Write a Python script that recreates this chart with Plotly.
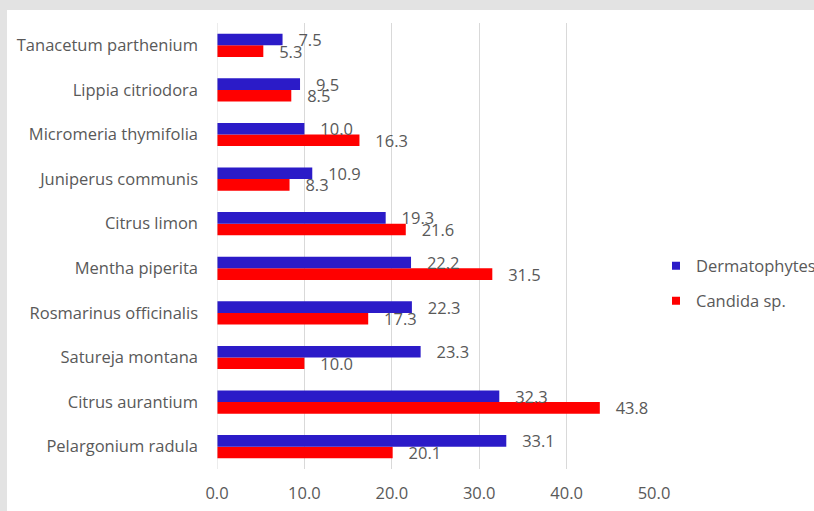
import plotly.graph_objects as go

categories = ["Pelargonium radula", "Citrus aurantium", "Satureja montana",
              "Rosmarinus officinalis", "Mentha piperita", "Citrus limon",
              "Juniperus communis", "Micromeria thymifolia", "Lippia citriodora",
              "Tanacetum parthenium"]
dermatophytes = [33.1, 32.3, 23.3, 22.3, 22.2, 19.3, 10.9, 10.0, 9.5, 7.5]
candida = [20.1, 43.8, 10.0, 17.3, 31.5, 21.6, 8.3, 16.3, 8.5, 5.3]
x_ticks = [0, 10, 20, 30, 40, 50]
x_tick_text = ["0.0", "10.0", "20.0", "30.0", "40.0", "50.0"]

W, H = 814, 511
L, R, T, B = 217, 160, 23, 42
pw, ph = W - L - R, H - T - B
def px_x(p): return (p - L) / pw
def px_y(p): return (H - B - p) / ph

FONT = "Open Sans"
FS = 16.5
GREY = "#595959"
BLUE = "#2B1BC8"
RED = "#FF0000"
PAD = "\u00a0\u00a0\u00a0"

fig = go.Figure()
fig.add_trace(go.Bar(y=categories, x=candida, orientation="h", name="Candida sp.",
                     marker=dict(color=RED, line=dict(width=0)),
                     text=[PAD + f"{v:.1f}" for v in candida], textposition="outside",
                     constraintext="none", cliponaxis=False, showlegend=False,
                     textfont=dict(family=FONT, size=FS, color=GREY)))
fig.add_trace(go.Bar(y=categories, x=dermatophytes, orientation="h", name="Dermatophytes",
                     marker=dict(color=BLUE, line=dict(width=0)),
                     text=[PAD + f"{v:.1f}" for v in dermatophytes], textposition="outside",
                     constraintext="none", cliponaxis=False, showlegend=False,
                     textfont=dict(family=FONT, size=FS, color=GREY)))

# legend entries (small square keys like the reference)
fig.add_trace(go.Scatter(x=[None], y=[None], mode="markers", name="Dermatophytes",
                         marker=dict(symbol="square", size=8, color=BLUE), legend="legend"))
fig.add_trace(go.Scatter(x=[None], y=[None], mode="markers", name="Candida sp.",
                         marker=dict(symbol="square", size=8, color=RED), legend="legend2"))

shapes = [
    dict(type="rect", xref="paper", yref="paper", x0=px_x(0), x1=px_x(W), y0=px_y(0), y1=px_y(10),
         fillcolor="#E3E3E3", line=dict(width=0), layer="below"),
    dict(type="rect", xref="paper", yref="paper", x0=px_x(0), x1=px_x(7), y0=px_y(H), y1=px_y(0),
         fillcolor="#E3E3E3", line=dict(width=0), layer="below"),
    dict(type="line", xref="x", yref="paper", x0=0, x1=0, y0=0, y1=1,
         line=dict(color="#D9D9D9", width=1)),
]

legend_common = dict(xanchor="left", yanchor="middle", itemwidth=30,
                     font=dict(family=FONT, size=FS, color=GREY), bgcolor="rgba(0,0,0,0)",
                     borderwidth=0)

fig.update_layout(
    width=W, height=H,
    margin=dict(l=L, r=R, t=T, b=B, autoexpand=False),
    paper_bgcolor="white", plot_bgcolor="white",
    barmode="group", bargap=0.48, bargroupgap=0,
    font=dict(family=FONT, size=FS, color=GREY),
    shapes=shapes,
    showlegend=True,
    legend=dict(x=px_x(656), y=px_y(266), **legend_common),
    legend2=dict(x=px_x(656), y=px_y(301), **legend_common),
    xaxis=dict(range=[0, 50], tickvals=x_ticks, ticktext=x_tick_text,
               showgrid=True, gridcolor="#D9D9D9", gridwidth=1, zeroline=False,
               showline=False, ticks="", ticklabelstandoff=12,
               tickfont=dict(family=FONT, size=FS, color=GREY)),
    yaxis=dict(categoryorder="array", categoryarray=categories,
               showgrid=False, zeroline=False, showline=False, ticks="",
               ticklabelstandoff=18,
               tickfont=dict(family=FONT, size=FS, color=GREY)),
)

fig.write_html("out.html")
